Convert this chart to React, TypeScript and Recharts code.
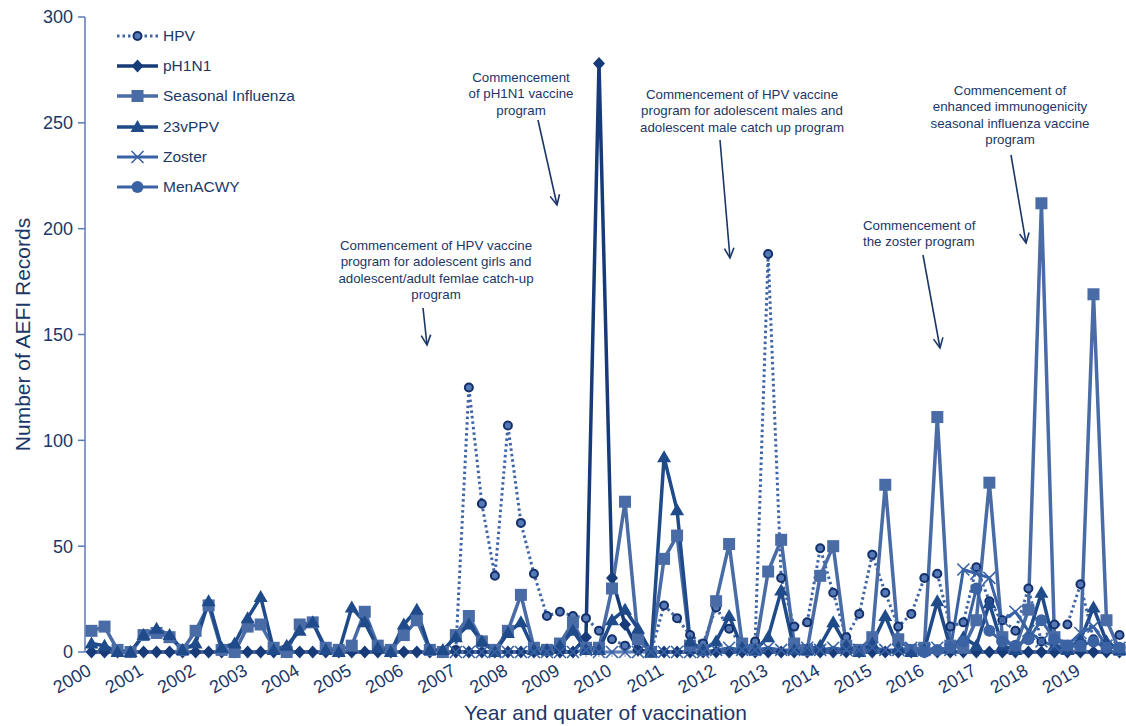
import React from 'react';
import { LineChart, Line, XAxis, YAxis, Legend, Customized } from 'recharts';

const FONT = '"Liberation Sans", Arial, Helvetica, sans-serif';
const NAVY = '#1b3768';

const years = [
  '2000', '2001', '2002', '2003', '2004', '2005', '2006', '2007', '2008', '2009',
  '2010', '2011', '2012', '2013', '2014', '2015', '2016', '2017', '2018', '2019',
];
const quarters = ['Q1', 'Q2', 'Q3', 'Q4'];
const yTicks = [0, 50, 100, 150, 200, 250, 300];

// AEFI records per quarter (2000 Q1 .. 2019 Q4)
const hpv = [
  null, null, null, null, null, null, null, null, null, null,
  null, null, null, null, null, null, null, null, null, null,
  null, null, null, null, null, null, null, null, 1, 125,
  70, 36, 107, 61, 37, 17, 19, 17, 16, 10,
  6, 3, 1, 0, 22, 16, 8, 4, 21, 11,
  3, 5, 188, 35, 12, 14, 49, 28, 7, 18,
  46, 28, 12, 18, 35, 37, 12, 14, 40, 24,
  15, 10, 30, 5, 13, 13, 32, 6, 3, 8,
];
const ph1n1 = [
  0, 0, 0, 0, 0, 0, 0, 0, 0, 0,
  0, 0, 0, 0, 0, 0, 0, 0, 0, 0,
  0, 0, 0, 0, 0, 0, 0, 0, 0, 0,
  0, 0, 0, 0, 0, 0, 0, 0, 7, 278,
  35, 13, 1, 0, 0, 0, 0, 0, 0, 0,
  0, 0, 0, 0, 0, 0, 0, 0, 0, 0,
  0, 0, 0, 0, 0, 0, 0, 0, 0, 0,
  0, 0, 0, 0, 0, 0, 0, 0, 0, 0,
];
const seasonal = [
  10, 12, 1, 0, 8, 9, 7, 1, 10, 22,
  1, 0, 12, 13, 2, 0, 13, 14, 2, 1,
  3, 19, 3, 1, 8, 15, 1, 0, 8, 17,
  5, 1, 10, 27, 2, 1, 4, 14, 2, 2,
  30, 71, 6, 0, 44, 55, 3, 1, 24, 51,
  4, 1, 38, 53, 4, 1, 36, 50, 3, 1,
  7, 79, 6, 1, 2, 111, 3, 2, 15, 80,
  7, 2, 20, 212, 7, 3, 3, 169, 15, 1,
];
const ppv23 = [
  4, 3, 0, 0, 8, 11, 8, 1, 4, 24,
  2, 4, 16, 26, 1, 3, 10, 14, 1, 0,
  21, 14, 2, 0, 13, 20, 1, 1, 7, 13,
  5, 0, 9, 14, 1, 1, 3, 10, 1, 1,
  15, 20, 11, 0, 92, 67, 5, 1, 5, 17,
  2, 1, 7, 29, 1, 1, 3, 14, 3, 0,
  4, 17, 2, 0, 1, 24, 2, 7, 3, 23,
  3, 1, 8, 28, 3, 1, 6, 21, 5, 1,
];
const zoster = [
  null, null, null, null, null, null, null, null, null, null,
  null, null, null, null, null, null, null, null, null, null,
  null, null, null, null, null, null, null, null, 0, 0,
  0, 0, 0, 0, 0, 0, 0, 0, 1, 0,
  0, 0, 0, 0, 0, 0, 0, 0, 1, 2,
  1, 1, 2, 1, 1, 2, 1, 2, 1, 1,
  2, 1, 1, 2, 1, 2, 1, 39, 37, 35,
  15, 19, 10, 5, 3, 3, 9, 12, 3, 2,
];
const menacwy = [
  null, null, null, null, null, null, null, null, null, null,
  null, null, null, null, null, null, null, null, null, null,
  null, null, null, null, null, null, null, null, null, null,
  null, null, null, null, null, null, null, null, null, null,
  null, null, null, null, null, null, null, null, null, null,
  null, null, null, null, null, null, null, null, null, null,
  null, null, null, null, 0, 1, 2, 5, 30, 10,
  5, 3, 6, 15, 6, 3, 3, 5, 2, 2,
];

const categories = years.flatMap((y) => quarters.map((q) => `${y} ${q}`));
const data = categories.map((q, i) => ({
  q,
  hpv: hpv[i],
  ph1n1: ph1n1[i],
  seasonal: seasonal[i],
  ppv23: ppv23[i],
  zoster: zoster[i],
  menacwy: menacwy[i],
}));

type Kind = 'ring' | 'diamond' | 'square' | 'triangle' | 'cross' | 'dot';

const series: { key: string; name: string; color: string; kind: Kind; width: number; dash?: string }[] = [
  { key: 'hpv', name: 'HPV', color: '#4065a6', kind: 'ring', width: 3, dash: '2.5 3' },
  { key: 'ph1n1', name: 'pH1N1', color: '#173a78', kind: 'diamond', width: 3.5 },
  { key: 'seasonal', name: 'Seasonal Influenza', color: '#4a6ca6', kind: 'square', width: 3.5 },
  { key: 'ppv23', name: '23vPPV', color: '#1f4b8b', kind: 'triangle', width: 3.5 },
  { key: 'zoster', name: 'Zoster', color: '#3862a5', kind: 'cross', width: 3 },
  { key: 'menacwy', name: 'MenACWY', color: '#3b63a4', kind: 'dot', width: 3 },
];

function marker(kind: Kind, cx: number, cy: number, color: string, key?: string) {
  switch (kind) {
    case 'ring':
      return <circle key={key} cx={cx} cy={cy} r={4} fill="#5579b6" stroke="#14306a" strokeWidth={2} />;
    case 'diamond':
      return (
        <path key={key} d={`M${cx},${cy - 6.5}L${cx + 6},${cy}L${cx},${cy + 6.5}L${cx - 6},${cy}Z`} fill={color} />
      );
    case 'square':
      return <rect key={key} x={cx - 6} y={cy - 6} width={12} height={12} fill={color} />;
    case 'triangle':
      return <path key={key} d={`M${cx},${cy - 7}L${cx + 7},${cy + 5}L${cx - 7},${cy + 5}Z`} fill={color} />;
    case 'cross':
      return (
        <g key={key} stroke={color} strokeWidth={1.6}>
          <line x1={cx - 6} y1={cy - 6} x2={cx + 6} y2={cy + 6} />
          <line x1={cx - 6} y1={cy + 6} x2={cx + 6} y2={cy - 6} />
        </g>
      );
    default:
      return <circle key={key} cx={cx} cy={cy} r={6} fill={color} />;
  }
}

const makeDot = (kind: Kind, color: string) => (p: any) => {
  const key = `${kind}-${p.index}`;
  if (p.value == null || p.cy == null) return <g key={key} />;
  return marker(kind, p.cx, p.cy, color, key);
};

function YearTick(props: any) {
  const { x, y, payload, index } = props;
  if (index % 4 !== 0) return <g />;
  const ax = x + 1;
  const ay = y + 15;
  return (
    <text
      x={ax}
      y={ay}
      textAnchor="end"
      fontSize={18}
      fill={NAVY}
      fontFamily={FONT}
      transform={`rotate(-30, ${ax}, ${ay})`}
    >
      {String(payload.value).slice(0, 4)}
    </text>
  );
}

function LegendBox() {
  return (
    <div style={{ fontFamily: FONT, color: NAVY, fontSize: 15.5 }}>
      {series.map((s) => (
        <div key={s.key} style={{ display: 'flex', alignItems: 'center', height: 30.2 }}>
          <svg width={46} height={20}>
            <line
              x1={2}
              x2={43}
              y1={10}
              y2={10}
              stroke={s.color}
              strokeWidth={s.width}
              strokeDasharray={s.dash}
            />
            {marker(s.kind, 22.5, 10, s.color)}
          </svg>
          <span style={{ marginLeft: 2 }}>{s.name}</span>
        </div>
      ))}
    </div>
  );
}

const notes = [
  {
    lines: ['Commencement of HPV vaccine', 'program for adolescent girls and', 'adolescent/adult femlae catch-up', 'program'],
    x: 436, y: 250, anchor: 'middle', arrow: [423, 308, 427, 345],
  },
  {
    lines: ['Commencement', 'of pH1N1 vaccine', 'program'],
    x: 521, y: 82, anchor: 'middle', arrow: [538, 120, 557, 205],
  },
  {
    lines: ['Commencement of HPV vaccine', 'program for adolescent males and', 'adolescent male catch up program'],
    x: 742, y: 99, anchor: 'middle', arrow: [720, 140, 730, 258],
  },
  {
    lines: ['Commencement of', 'the zoster program'],
    x: 863, y: 230, anchor: 'start', arrow: [923, 255, 940, 348],
  },
  {
    lines: ['Commencement of', 'enhanced immunogenicity', 'seasonal influenza vaccine', 'program'],
    x: 1010, y: 95, anchor: 'middle', arrow: [1011, 155, 1026, 243],
  },
];

function Annotations() {
  return (
    <g fontFamily={FONT} fontSize={13.3} fill={NAVY}>
      {notes.map((n, i) => {
        const [x1, y1, x2, y2] = n.arrow;
        const ang = Math.atan2(y2 - y1, x2 - x1);
        const h = 11;
        const a1 = ang + Math.PI - 0.45;
        const a2 = ang + Math.PI + 0.45;
        return (
          <g key={i}>
            {n.lines.map((l, j) => (
              <text key={j} x={n.x} y={n.y + j * 16.4} textAnchor={n.anchor as any}>
                {l}
              </text>
            ))}
            <g stroke={NAVY} strokeWidth={1.6} fill="none">
              <line x1={x1} y1={y1} x2={x2} y2={y2} />
              <polyline
                points={`${x2 + h * Math.cos(a1)},${y2 + h * Math.sin(a1)} ${x2},${y2} ${x2 + h * Math.cos(a2)},${y2 + h * Math.sin(a2)}`}
              />
            </g>
          </g>
        );
      })}
    </g>
  );
}

export default function App() {
  return (
    <div style={{ position: 'absolute', left: 0, top: 0, width: 1126, height: 726, background: '#fff' }}>
      <LineChart
        width={1126}
        height={726}
        data={data}
        margin={{ top: 17, right: 0, bottom: 0, left: 0 }}
        style={{ fontFamily: FONT }}
      >
        <XAxis
          dataKey="q"
          interval={0}
          height={74}
          padding={{ left: 6.5, right: 6.5 }}
          axisLine={{ stroke: '#7f97c6', strokeWidth: 1 }}
          tickLine={{ stroke: '#7f97c6' }}
          tickSize={5}
          tick={<YearTick />}
          label={{ value: 'Year and quater of vaccination', position: 'insideBottom', offset: 6, fontSize: 21, fill: NAVY }}
        />
        <YAxis
          domain={[0, 300]}
          ticks={yTicks}
          width={85}
          axisLine={{ stroke: '#5b7bb5', strokeWidth: 1.5 }}
          tickLine={{ stroke: '#5b7bb5', strokeWidth: 1.5 }}
          tickSize={7}
          tickMargin={5}
          tick={{ fontSize: 18, fill: NAVY }}
          label={{ value: 'Number of AEFI Records', angle: -90, position: 'center', dx: -20, fontSize: 21, fill: NAVY }}
        />
        <Legend
          layout="vertical"
          align="center"
          verticalAlign="middle"
          content={<LegendBox />}
          wrapperStyle={{ top: 21, left: 115, width: 240 }}
        />
        {series.map((s) => (
          <Line
            key={s.key}
            dataKey={s.key}
            name={s.name}
            type="linear"
            stroke={s.color}
            strokeWidth={s.width}
            strokeDasharray={s.dash}
            dot={makeDot(s.kind, s.color)}
            activeDot={false}
            isAnimationActive={false}
          />
        ))}
        <Customized component={Annotations} />
      </LineChart>
    </div>
  );
}
